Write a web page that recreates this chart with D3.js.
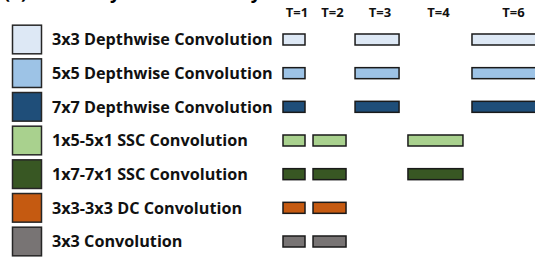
<!DOCTYPE html>
<html><head><meta charset="utf-8">
<script src="https://cdn.jsdelivr.net/npm/d3@7"></script>
<style>body{margin:0;background:#fff}svg{display:block}</style>
</head><body><svg id="c" width="535" height="257"></svg>
<script>
const title = "(a) Hierarchy of Kernel Array";
const categories = ["3x3 Depthwise Convolution","5x5 Depthwise Convolution","7x7 Depthwise Convolution","1x5-5x1 SSC Convolution","1x7-7x1 SSC Convolution","3x3-3x3 DC Convolution","3x3 Convolution"];
const colors = ["#dde8f5","#9dc3e6","#1f4e79","#a9d18e","#385723","#c55a11","#787474"];
const stepLabels = ["T=1","T=2","T=3","T=4","T=6"];
const stepStart = [0, 2.73, 6.55, 11.36, 17.18];
const stepLength = [2, 3, 4, 5, 7];
// which steps each category occupies (1 = present)
const presence = [
  [1,0,1,0,1],
  [1,0,1,0,1],
  [1,0,1,0,1],
  [1,1,0,1,0],
  [1,1,0,1,0],
  [1,1,0,0,0],
  [1,1,0,0,0]
];

const svg = d3.select("#c");
const font = "'Open Sans', Lato, sans-serif";

svg.append("text").attr("x",4).attr("y",-1).attr("font-family",font).attr("font-weight","bold")
  .attr("font-size",18).attr("fill","#000").text(title);

const y = d3.scaleBand().domain(categories).range([23, 258]).paddingInner(0.12).paddingOuter(0.05);
const x = d3.scaleLinear().domain([0, 1]).range([283, 294]);

const rows = svg.append("g").selectAll("g").data(categories).join("g");
rows.append("rect").attr("x",12.5).attr("y",d=>y(d)+0.5).attr("width",29).attr("height",y.bandwidth()-1)
  .attr("fill",(d,i)=>colors[i]).attr("stroke","#262626").attr("stroke-width",1.5);
rows.append("text").attr("x",52).attr("y",d=>y(d)+y.bandwidth()/2).attr("dy","0.36em")
  .attr("font-family",font).attr("font-weight","bold").attr("font-size",16.2).attr("fill","#111")
  .text(d=>d);

const barH = 11;
categories.forEach((c,i)=>{
  presence[i].forEach((p,j)=>{
    if(!p) return;
    svg.append("rect").attr("x",x(stepStart[j])).attr("y",y(c)+y.bandwidth()/2-barH/2)
      .attr("width",x(stepStart[j]+stepLength[j])-x(stepStart[j])).attr("height",barH)
      .attr("fill",colors[i]).attr("stroke","#1a1a1a").attr("stroke-width",1.5);
  });
});

svg.append("g").selectAll("text").data(stepLabels).join("text")
  .attr("x",(d,j)=>x(stepStart[j]+stepLength[j]/2)+3).attr("y",17)
  .attr("text-anchor","middle").attr("font-family",font).attr("font-weight","bold")
  .attr("font-size",13).attr("fill","#111").text(d=>d);
</script></body></html>
